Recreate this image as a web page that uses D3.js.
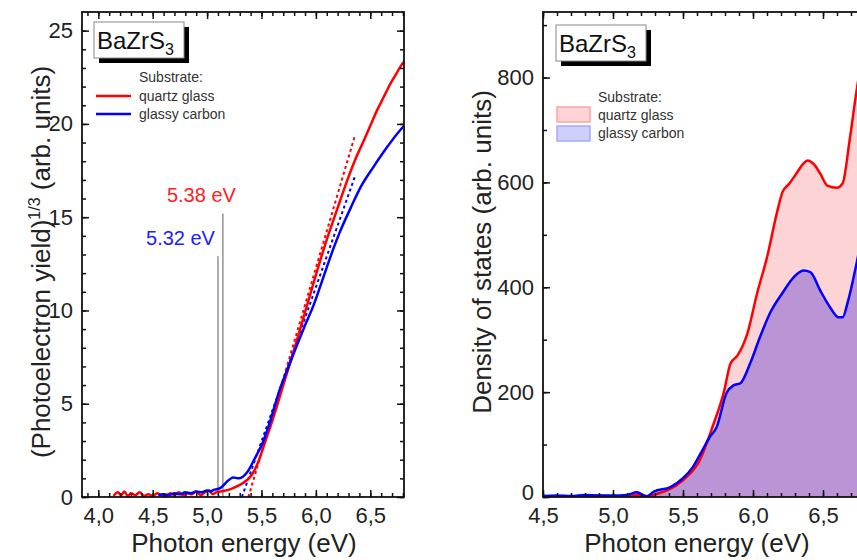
<!DOCTYPE html>
<html>
<head>
<meta charset="utf-8">
<script src="https://cdn.jsdelivr.net/npm/d3@7"></script>
<style>
  body { margin: 0; background: #fff; }
  svg { display: block; font-family: "Liberation Sans", Arial, sans-serif; }
</style>
</head>
<body>
<svg id="chart" width="857" height="560"></svg>
<script>
// ---- values ----
var series = ['quartz glass', 'glassy carbon'];

// (photoelectron yield)^1/3 vs photon energy (eV)
var pysQuartz = [
  [4.14,0.05],[4.18,0.25],[4.21,0.1],[4.24,0.3],[4.27,0.05],[4.30,0.2],[4.34,0.1],[4.38,0.25],
  [4.42,0.05],[4.46,0.15],[4.50,0.05],[4.54,0.2],[4.58,0.1],[4.62,0.05],[4.66,0.2],[4.70,0.1],
  [4.74,0.25],[4.78,0.1],[4.82,0.2],[4.86,0.15],[4.90,0.3],[4.94,0.1],[4.98,0.25],[5.02,0.35],
  [5.05,0.15],[5.09,0.27],[5.15,0.32],[5.24,0.48],[5.33,0.75],[5.41,1.18],[5.47,1.88],[5.53,2.9],
  [5.60,4.1],[5.70,6.0],[5.80,7.9],[5.86,9.1],[5.93,10.5],[6.01,12.1],[6.10,13.8],[6.20,15.5],
  [6.29,17.0],[6.37,18.2],[6.44,19.1],[6.50,19.9],[6.56,20.7],[6.62,21.4],[6.68,22.1],[6.74,22.7],
  [6.78,23.1],[6.82,23.4]
];
var pysCarbon = [
  [4.55,0.1],[4.60,0.15],[4.65,0.1],[4.70,0.2],[4.75,0.15],[4.80,0.25],[4.85,0.2],[4.90,0.3],
  [4.95,0.25],[5.00,0.35],[5.03,0.3],[5.06,0.38],[5.12,0.48],[5.20,0.91],[5.24,1.05],[5.29,1.0],
  [5.37,1.34],[5.44,2.09],[5.51,2.9],[5.56,3.7],[5.67,5.8],[5.75,7.0],[5.83,8.2],[5.90,9.2],
  [5.98,10.3],[6.07,11.8],[6.16,13.3],[6.22,14.2],[6.32,15.5],[6.41,16.6],[6.53,17.7],[6.66,18.8],
  [6.78,19.7],[6.82,19.95]
];
// linear fits of the onset
var fitQuartz = [[5.38,0],[6.36,19.4]];
var fitCarbon = [[5.32,0],[6.36,17.2]];
// grey marker lines and their labels
var markerEnergy = [5.145, 5.10];
var markerTop = [15.2, 12.9];
var markerLabels = ['5.38 eV', '5.32 eV'];

// density of states (arb. units) vs photon energy (eV)
var dosQuartz = [
  [4.5,1],[4.6,0],[4.7,2],[4.8,0],[4.9,3],[5.0,1],[5.1,2],[5.19,4],[5.25,2],[5.3,5],[5.39,13],
  [5.50,32],[5.62,70],[5.71,133],[5.79,198],[5.84,255],[5.89,270],[5.96,312],[6.03,389],[6.10,457],
  [6.17,541],[6.21,581],[6.26,598],[6.31,617],[6.36,636],[6.39,642],[6.43,636],[6.48,617],[6.53,594],
  [6.60,590],[6.64,598],[6.69,680],[6.74,775],[6.78,840]
];
var dosCarbon = [
  [4.5,2],[4.6,3],[4.7,2],[4.8,4],[4.9,3],[5.0,3],[5.1,4],[5.17,9],[5.24,1],[5.29,10],[5.41,19],
  [5.50,36],[5.57,57],[5.64,90],[5.69,114],[5.74,133],[5.81,198],[5.86,213],[5.91,217],[5.98,255],
  [6.05,305],[6.12,350],[6.21,389],[6.29,419],[6.36,432],[6.41,429],[6.48,394],[6.55,362],[6.61,343],
  [6.64,343],[6.68,375],[6.74,446],[6.78,500]
];

var pysTicksX = [4.0, 4.5, 5.0, 5.5, 6.0, 6.5];
var pysTicksY = [0, 5, 10, 15, 20, 25];
var dosTicksX = [4.5, 5.0, 5.5, 6.0, 6.5];
var dosTicksY = [0, 200, 400, 600, 800];

var red = '#ff0000', blue = '#0000ff';
var pink = '#fdd4d6', purple = '#ba94d4';

var svg = d3.select('#chart');
var defs = svg.append('defs');

var commaFmt = function(d){ return d3.format('.1f')(d).replace('.', ','); };

function makePanel(o){
  var x = d3.scaleLinear().domain(o.xDomain).range([o.left, o.right]);
  var y = d3.scaleLinear().domain(o.yDomain).range([o.bottom, o.top]);
  defs.append('clipPath').attr('id', 'clip-' + o.name)
    .append('rect')
    .attr('x', o.left).attr('y', o.top)
    .attr('width', o.right - o.left).attr('height', o.bottom - o.top);
  var g = svg.append('g').attr('class', o.name);
  var plot = g.append('g').attr('clip-path', 'url(#clip-' + o.name + ')');
  return { o: o, x: x, y: y, g: g, plot: plot };
}

function drawAxes(p){
  var o = p.o, x = p.x, y = p.y;
  var g = p.g.append('g').attr('class', 'axes');
  var xMinor = d3.range(Math.ceil(o.xDomain[0] * 10), o.xDomain[1] * 10 + 0.01).map(function(d){ return d / 10; });
  var yMinor = d3.range(0, o.yDomain[1], o.yMinorStep);

  function put(axis, tx, ty, labels){
    var a = g.append('g').attr('transform', 'translate(' + tx + ',' + ty + ')').call(axis);
    a.select('.domain').remove();
    a.selectAll('line').attr('stroke', '#111').attr('stroke-width', 1.5);
    a.attr('font-size', 22).attr('font-family', null);
    if ( labels ) a.selectAll('text').attr('fill', '#222');
    else a.selectAll('text').remove();
    return a;
  }

  // ticks point inwards on all four sides
  put(d3.axisBottom(x).tickValues(xMinor).tickSize(-4), 0, o.bottom);
  put(d3.axisBottom(x).tickValues(o.xTicks).tickSize(-7).tickPadding(10).tickFormat(commaFmt), 0, o.bottom, true);
  put(d3.axisTop(x).tickValues(xMinor).tickSize(-4), 0, o.top);
  put(d3.axisTop(x).tickValues(o.xTicks).tickSize(-7), 0, o.top);
  put(d3.axisLeft(y).tickValues(yMinor).tickSize(-4), o.left, 0);
  var yl = put(d3.axisLeft(y).tickValues(o.yTicks).tickSize(-7).tickPadding(9).tickFormat(d3.format('d')), o.left, 0, true);
  // the zero label sits a little high, clear of the first x label
  yl.selectAll('text').filter(function(d){ return d === 0; }).attr('y', -o.zeroLift);
  put(d3.axisRight(y).tickValues(yMinor).tickSize(-4), o.right, 0);
  put(d3.axisRight(y).tickValues(o.yTicks).tickSize(-7), o.right, 0);

  g.append('rect')
    .attr('x', o.left).attr('y', o.top)
    .attr('width', o.right - o.left).attr('height', o.bottom - o.top)
    .attr('fill', 'none').attr('stroke', '#111').attr('stroke-width', 1.8);

  g.append('text')
    .attr('x', o.xTitleX).attr('y', 552)
    .attr('text-anchor', 'middle').attr('font-size', 26).attr('fill', '#222')
    .text('Photon energy (eV)');
}

function sampleBox(g, bx, by){
  // "BaZrS3" label with a drop shadow
  g.append('rect').attr('x', bx + 5).attr('y', by + 5).attr('width', 90).attr('height', 36).attr('fill', '#000');
  g.append('rect').attr('x', bx).attr('y', by).attr('width', 90).attr('height', 36)
    .attr('fill', '#fff').attr('stroke', '#888').attr('stroke-width', 1);
  var t = g.append('text').attr('x', bx + 3).attr('y', by + 27).attr('font-size', 24).attr('fill', '#111');
  t.append('tspan').text('BaZrS');
  t.append('tspan').attr('font-size', 16).attr('dy', 6).text('3');
}

// ---------- left panel: photoelectron yield ----------
var pys = makePanel({
  name: 'pys', left: 82, right: 404, top: 12, bottom: 497,
  xDomain: [3.85, 6.81], yDomain: [0, 26], xTicks: pysTicksX, yTicks: pysTicksY,
  yMinorStep: 1, xTitleX: 244, zeroLift: 0
});

var pysLine = d3.line()
  .x(function(d){ return pys.x(d[0]); })
  .y(function(d){ return pys.y(d[1]); })
  .curve(d3.curveMonotoneX);

// grey marker lines
markerEnergy.forEach(function(e, i){
  pys.plot.append('line')
    .attr('x1', pys.x(e)).attr('x2', pys.x(e))
    .attr('y1', pys.y(markerTop[i])).attr('y2', pys.y(0))
    .attr('stroke', '#9a9a9a').attr('stroke-width', 1.6);
  pys.g.append('text')
    .attr('x', pys.x(e) + (i === 0 ? 13 : -3))
    .attr('y', pys.y(markerTop[i]) - 11)
    .attr('text-anchor', 'end').attr('font-size', 20)
    .attr('fill', i === 0 ? '#ff2020' : '#2020ff')
    .text(markerLabels[i]);
});

[[fitQuartz, red], [fitCarbon, blue]].forEach(function(f){
  pys.plot.append('path').datum(f[0])
    .attr('d', d3.line().x(function(d){ return pys.x(d[0]); }).y(function(d){ return pys.y(d[1]); }))
    .attr('fill', 'none').attr('stroke', f[1]).attr('stroke-width', 2).attr('stroke-dasharray', '3,3');
});

pys.plot.append('path').datum(pysQuartz)
  .attr('d', pysLine).attr('fill', 'none').attr('stroke', red).attr('stroke-width', 2.5);
pys.plot.append('path').datum(pysCarbon)
  .attr('d', pysLine).attr('fill', 'none').attr('stroke', blue).attr('stroke-width', 2.5);

drawAxes(pys);
sampleBox(pys.g, 94, 22);

// legend
var lg = pys.g.append('g').attr('font-size', 14).attr('fill', '#333');
lg.append('text').attr('x', 139).attr('y', 82).text('Substrate:');
series.forEach(function(s, i){
  lg.append('line').attr('x1', 96).attr('x2', 131).attr('y1', 96 + i * 18).attr('y2', 96 + i * 18)
    .attr('stroke', i ? blue : red).attr('stroke-width', 2.5);
  lg.append('text').attr('x', 139).attr('y', 101 + i * 18).text(s);
});

svg.append('text')
  .attr('transform', 'translate(50,262) rotate(-90)')
  .attr('text-anchor', 'middle').attr('font-size', 26).attr('fill', '#222')
  .call(function(t){
    t.append('tspan').text('(Photoelectron yield)');
    t.append('tspan').attr('font-size', 16).attr('dy', -10).text('1/3');
    t.append('tspan').attr('dy', 10).text(' (arb. units)');
  });

// ---------- right panel: density of states ----------
var dos = makePanel({
  name: 'dos', left: 543, right: 870, top: 12, bottom: 497,
  xDomain: [4.5, 4.5 + 327 / 140], yDomain: [0, 925], xTicks: dosTicksX, yTicks: dosTicksY,
  yMinorStep: 100, xTitleX: 697, zeroLift: 5
});

var dosArea = d3.area()
  .x(function(d){ return dos.x(d[0]); })
  .y0(dos.y(0))
  .y1(function(d){ return dos.y(d[1]); })
  .curve(d3.curveMonotoneX);
var dosLine = dosArea.lineY1();

dos.plot.append('path').datum(dosQuartz).attr('d', dosArea).attr('fill', pink);
dos.plot.append('path').datum(dosCarbon).attr('d', dosArea).attr('fill', purple);
dos.plot.append('path').datum(dosQuartz)
  .attr('d', dosLine).attr('fill', 'none').attr('stroke', red).attr('stroke-width', 2.5);
dos.plot.append('path').datum(dosCarbon)
  .attr('d', dosLine).attr('fill', 'none').attr('stroke', blue).attr('stroke-width', 2.5);

drawAxes(dos);
sampleBox(dos.g, 556, 25);

var lg2 = dos.g.append('g').attr('font-size', 14).attr('fill', '#333');
lg2.append('text').attr('x', 598).attr('y', 102).text('Substrate:');
series.forEach(function(s, i){
  lg2.append('rect').attr('x', 557).attr('y', 107 + i * 19).attr('width', 33).attr('height', 15)
    .attr('fill', i ? '#cfcffb' : '#fdd4d6').attr('stroke', i ? '#a9a9f7' : '#fba4a8').attr('stroke-width', 1.5);
  lg2.append('text').attr('x', 598).attr('y', 120 + i * 18).text(s);
});

svg.append('text')
  .attr('transform', 'translate(491,252) rotate(-90)')
  .attr('text-anchor', 'middle').attr('font-size', 26).attr('fill', '#222')
  .text('Density of states (arb. units)');
</script>
</body>
</html>
